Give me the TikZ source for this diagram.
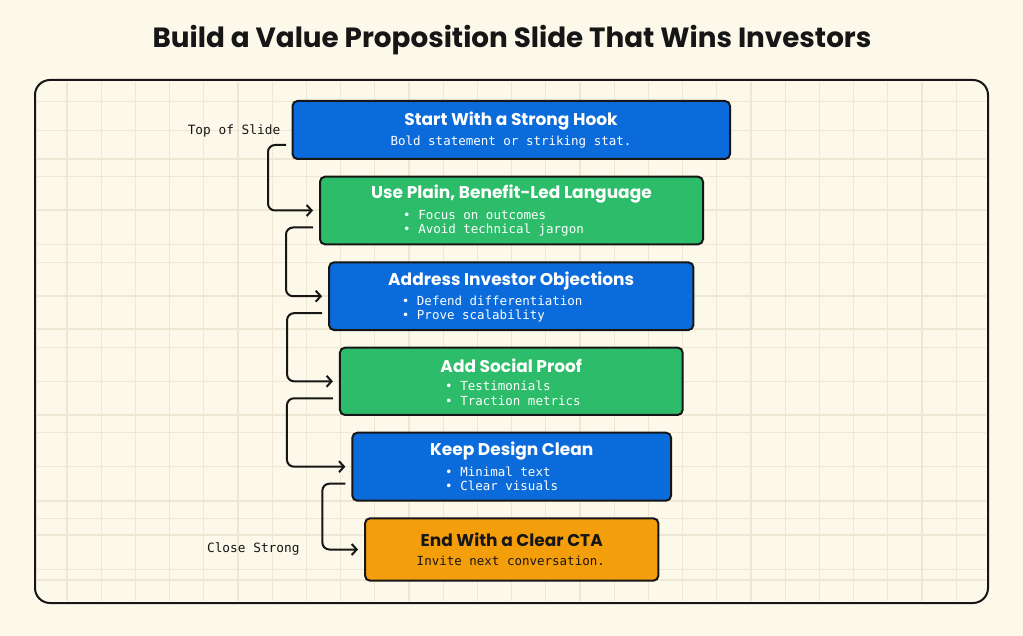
\documentclass[tikz,border=0pt]{standalone}
\usepackage{fontspec}
\setmainfont{Poppins}
\newfontfamily\monof{DejaVu Sans Mono}
\usetikzlibrary{arrows.meta,calc}
\definecolor{bgc}{HTML}{FCF8EA}
\definecolor{gridc}{HTML}{EDE7D3}
\definecolor{bluec}{HTML}{0B6BDB}
\definecolor{greenc}{HTML}{2DBD6A}
\definecolor{orangec}{HTML}{F59E0B}
\definecolor{inkc}{HTML}{161616}
\tikzset{
  stepbox/.style={draw=inkc,line width=2pt,rounded corners=5pt,inner sep=0pt},
  ttl/.style={font=\fontsize{17}{19}\selectfont\bfseries,text=white,inner sep=0pt},
  sub/.style={font=\monof\fontsize{12.5}{14}\selectfont,text=white,inner sep=0pt},
  bul/.style={font=\monof\fontsize{12.5}{14}\selectfont,text=white,inner sep=0pt,anchor=west},
  side/.style={font=\monof\fontsize{12.8}{14}\selectfont,text=inkc,inner sep=0pt},
  conn/.style={draw=inkc,line width=2pt,rounded corners=7pt,-{Straight Barb[length=5pt,width=11pt,line width=2pt]}},
}
\begin{document}
\begin{tikzpicture}[x=1pt,y=-1pt]
\fill[bgc] (0,0) rectangle (1023,636);
\useasboundingbox (0,0) rectangle (1023,636);
% grid
\foreach \k in {0,...,26}{
  \draw[gridc,line width=1.3pt] ({67+34.2*\k},82) -- ({67+34.2*\k},601);
}
\foreach \yy in {101.7,130.7,159,176.7,210,244.3,262.3,296,329,347.3,381.7,415,432.7,466.7,501,518.3,535,569.3,580}{
  \draw[gridc,line width=1.3pt] (37,\yy) -- (986,\yy);
}
% frame
\draw[inkc,line width=2pt,rounded corners=15pt] (35,80) rectangle (988,603);
% title
\node[font=\fontsize{27.8}{32}\selectfont\bfseries,text=inkc,inner sep=0pt] (title) at (512,40) {Build a Value Proposition Slide That Wins Investors};
% boxes
\node[stepbox,fill=bluec,minimum width=437.5pt,minimum height=58pt] (b1) at (511.25,130) {};
\node[stepbox,fill=greenc,minimum width=383pt,minimum height=67.6pt] (b2) at (511.5,210.5) {};
\node[stepbox,fill=bluec,minimum width=364.3pt,minimum height=67.7pt] (b3) at (511.2,296.2) {};
\node[stepbox,fill=greenc,minimum width=342.7pt,minimum height=67.3pt] (b4) at (511.3,381.3) {};
\node[stepbox,fill=bluec,minimum width=318.7pt,minimum height=68pt] (b5) at (511.7,466.7) {};
\node[stepbox,fill=orangec,minimum width=293.3pt,minimum height=62.4pt] (b6) at (511.7,549.5) {};
% texts
\node[ttl] (b1t) at (511,121) {Start With a Strong Hook};
\node[sub] (b1s) at (511,141.7) {Bold statement or striking stat.};
\node[ttl] (b2t) at (511.5,194.3) {Use Plain, Benefit-Led Language};
\node[bul] (b2a) at (403,215) {• Focus on outcomes};
\node[bul] (b2b) at (403,230) {• Avoid technical jargon};
\node[ttl] (b3t) at (511.2,280.7) {Address Investor Objections};
\node[bul] (b3a) at (401.7,300.7) {• Defend differentiation};
\node[bul] (b3b) at (401.7,315.7) {• Prove scalability};
\node[ttl] (b4t) at (511.3,365.7) {Add Social Proof};
\node[bul] (b4a) at (445,386) {• Testimonials};
\node[bul] (b4b) at (445,400.7) {• Traction metrics};
\node[ttl] (b5t) at (511.7,451) {Keep Design Clean};
\node[bul] (b5a) at (445,471.7) {• Minimal text};
\node[bul] (b5b) at (445,486) {• Clear visuals};
\node[ttl,text=inkc] (b6t) at (511.7,540) {End With a Clear CTA};
\node[sub,text=inkc] (b6s) at (510.8,561) {Invite next conversation.};
% side labels
\node[side] (top) at (234,131) {Top of Slide};
\node[side] (close) at (253.3,549.3) {Close Strong};
% connectors
\draw[conn] ($(b1.west)+(-5.5,15)$) -- ++(-18,0) |- ($(b2.west)+(-6,0)$);
\draw[conn] ($(b2.west)+(-6,17)$) -- ++(-27,0) |- ($(b3.west)+(-6,0)$);
\draw[conn] ($(b3.west)+(-6,17)$) -- ++(-35,0) |- ($(b4.west)+(-6,0)$);
\draw[conn] ($(b4.west)+(-6,17)$) -- ++(-46,0) |- ($(b5.west)+(-6,0)$);
\draw[conn] ($(b5.west)+(-6,17)$) -- ++(-23,0) |- ($(b6.west)+(-6,0)$);
\end{tikzpicture}
\end{document}
